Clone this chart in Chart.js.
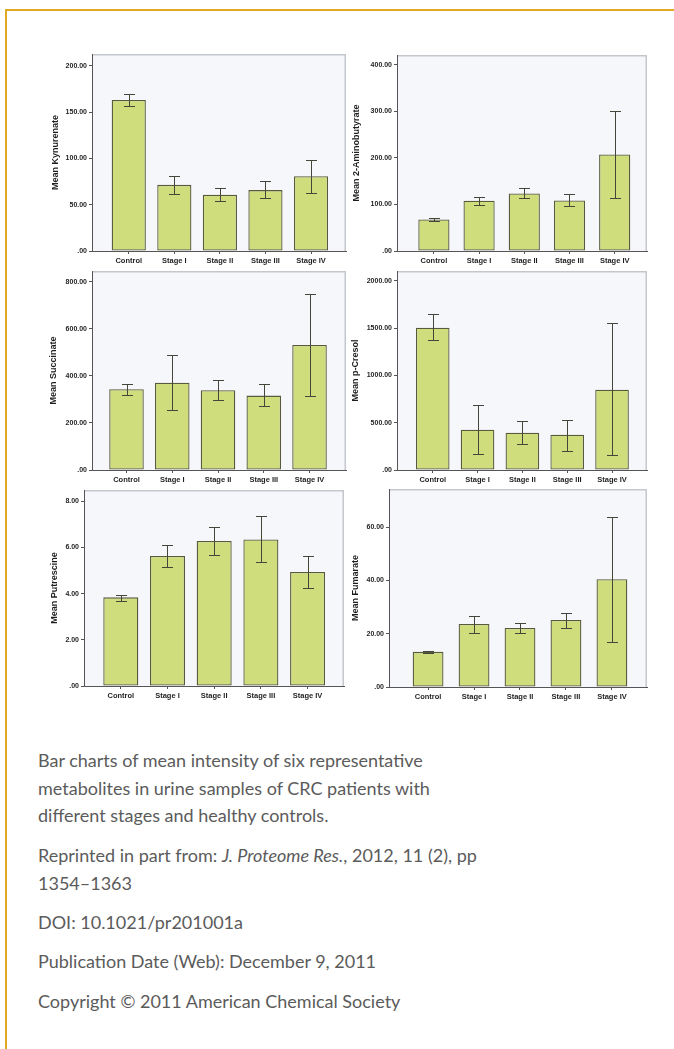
<!DOCTYPE html>
<html>
<head>
<meta charset="utf-8">
<script src="https://cdn.jsdelivr.net/npm/chart.js@4.4.1/dist/chart.umd.min.js"></script>
<style>
  html, body { margin: 0; padding: 0; background: #fff; }
  body { width: 674px; height: 1049px; position: relative; overflow: hidden; }
  .frame {
    position: absolute; left: 5px; top: 9px; right: 0; bottom: 0;
    border-left: 2px solid #e2a823; border-top: 2px solid #e2a823;
  }
  .panel { position: absolute; }
  .caption {
    position: absolute; left: 38px; top: 747px;
    color: #5b5b5b; font-family: Lato, "Open Sans", sans-serif;
    font-size: 18px; line-height: 27.7px; white-space: nowrap;
  }
  .caption p { margin: 0 0 11.7px 0; }
</style>
</head>
<body>
<div class="frame"></div>
<canvas id="c1" class="panel"></canvas>
<canvas id="c2" class="panel"></canvas>
<canvas id="c3" class="panel"></canvas>
<canvas id="c4" class="panel"></canvas>
<canvas id="c5" class="panel"></canvas>
<canvas id="c6" class="panel"></canvas>
<div class="caption">
  <p>Bar charts of mean intensity of six representative<br>metabolites in urine samples of CRC patients with<br>different stages and healthy controls.</p>
  <p>Reprinted in part from: <i>J. Proteome Res.</i>, 2012, 11 (2), pp<br>1354–1363</p>
  <p>DOI: 10.1021/pr201001a</p>
  <p>Publication Date (Web): December 9, 2011</p>
  <p>Copyright © 2011 American Chemical Society</p>
</div>
<script>
// Groups on the category axis
const categories = ['Control', 'Stage I', 'Stage II', 'Stage III', 'Stage IV'];

// Mean intensity per group, with the lower / upper ends of each error bar
const kynurenateMean = [163, 71.4, 60.7, 65.7, 80.8];
const kynurenateLow  = [156.6, 61.4, 53.5, 56.7, 62.5];
const kynurenateHigh = [169.5, 80.8, 67.5, 75.4, 98.7];
const kynurenateTicks = [0, 50, 100, 150, 200];

const aminobutyrateMean = [67.8, 108, 123.6, 108.6, 207.3];
const aminobutyrateLow  = [64.4, 98.7, 112.9, 95.7, 112.9];
const aminobutyrateHigh = [71.5, 117, 135.8, 122.3, 301];
const aminobutyrateTicks = [0, 100, 200, 300, 400];

const succinateMean = [343, 371, 339, 316, 531];
const succinateLow  = [317.8, 255.5, 296.6, 271, 316];
const succinateHigh = [365.7, 487, 382.6, 365.7, 748];
const succinateTicks = [0, 200, 400, 600, 800];

const cresolMean = [1504, 426, 394, 373, 849];
const cresolLow  = [1374, 169, 278, 204, 154];
const cresolHigh = [1645, 683, 514, 532, 1554];
const cresolTicks = [0, 500, 1000, 1500, 2000];

const putrescineMean = [3.84, 5.63, 6.28, 6.35, 4.94];
const putrescineLow  = [3.68, 5.14, 5.68, 5.37, 4.23];
const putrescineHigh = [3.95, 6.10, 6.87, 7.36, 5.63];
const putrescineTicks = [0, 2, 4, 6, 8];

const fumarateMean = [13.2, 23.7, 22.2, 25.2, 40.5];
const fumarateLow  = [12.6, 20.2, 20.4, 22.2, 16.9];
const fumarateHigh = [13.6, 26.8, 24.1, 27.8, 63.8];
const fumarateTicks = [0, 20, 40, 60];

// Panel placement on the page (plot-area edges in page pixels) and axis extents
const panels = [
  { id: 'c1', title: 'Mean Kynurenate', mean: kynurenateMean, low: kynurenateLow, high: kynurenateHigh,
    ticks: kynurenateTicks, yMax: 212.6, col: 40, titleX: 55.7,
    area: { l: 92, t: 54, r: 346, b: 251 }, xMin: -0.807, xMax: 4.768, barPct: 0.75 },
  { id: 'c2', title: 'Mean 2-Aminobutyrate', mean: aminobutyrateMean, low: aminobutyrateLow, high: aminobutyrateHigh,
    ticks: aminobutyrateTicks, yMax: 421, col: 340, titleX: 357,
    area: { l: 397, t: 55, r: 647, b: 251 }, xMin: -0.816, xMax: 4.715, barPct: 0.69 },
  { id: 'c3', title: 'Mean Succinate', mean: succinateMean, low: succinateLow, high: succinateHigh,
    ticks: succinateTicks, yMax: 845, col: 40, titleX: 54,
    area: { l: 92, t: 271, r: 346, b: 470 }, xMin: -0.754, xMax: 4.797, barPct: 0.755 },
  { id: 'c4', title: 'Mean p-Cresol', mean: cresolMean, low: cresolLow, high: cresolHigh,
    ticks: cresolTicks, yMax: 2105, col: 340, titleX: 355.7,
    area: { l: 397, t: 271, r: 647, b: 470 }, xMin: -0.797, xMax: 4.78, barPct: 0.75 },
  { id: 'c5', title: 'Mean Putrescine', mean: putrescineMean, low: putrescineLow, high: putrescineHigh,
    ticks: putrescineTicks, yMax: 8.49, col: 40, titleX: 55,
    area: { l: 84, t: 490, r: 344, b: 686 }, xMin: -0.788, xMax: 4.78, barPct: 0.75 },
  { id: 'c6', title: 'Mean Fumarate', mean: fumarateMean, low: fumarateLow, high: fumarateHigh,
    ticks: fumarateTicks, yMax: 74.4, col: 340, titleX: 355.7,
    area: { l: 389, t: 489, r: 647, b: 687 }, xMin: -0.85, xMax: 4.763, barPct: 0.67 }
];

const FONT = '"Liberation Sans", Arial, sans-serif';
const PAD_TOP = 8, PAD_RIGHT = 3, X_AXIS_H = 22;

// Light plot background with a pale frame on the top and right edges
const plotFrame = {
  id: 'plotFrame',
  beforeDraw(chart) {
    const { ctx, chartArea: a } = chart;
    ctx.save();
    ctx.fillStyle = '#f5f7fb';
    ctx.fillRect(a.left, a.top, a.right - a.left, a.bottom - a.top);
    ctx.strokeStyle = '#c4c8cc';
    ctx.lineWidth = 1.5;
    ctx.beginPath();
    ctx.moveTo(a.left, a.top + 0.75);
    ctx.lineTo(a.right - 0.75, a.top + 0.75);
    ctx.lineTo(a.right - 0.75, a.bottom);
    ctx.stroke();
    ctx.restore();
  }
};

// Vertical error bars with short caps, placed through the chart's scales
const errorBars = {
  id: 'errorBars',
  afterDatasetsDraw(chart) {
    const ds = chart.data.datasets[0];
    const xs = chart.scales.x, ys = chart.scales.y;
    const ctx = chart.ctx;
    const cap = 5.5;
    ctx.save();
    ctx.strokeStyle = '#45453a';
    ctx.lineWidth = 1;
    ds.errLow.forEach((lo, i) => {
      const x = Math.round(xs.getPixelForValue(i)) + 0.5;
      const yl = Math.round(ys.getPixelForValue(lo)) + 0.5;
      const yh = Math.round(ys.getPixelForValue(ds.errHigh[i])) + 0.5;
      ctx.beginPath();
      ctx.moveTo(x, yh); ctx.lineTo(x, yl);
      ctx.moveTo(x - cap, yh); ctx.lineTo(x + cap, yh);
      ctx.moveTo(x - cap, yl); ctx.lineTo(x + cap, yl);
      ctx.stroke();
    });
    ctx.restore();
  }
};

function formatTick(v) {
  return v === 0 ? '.00' : v.toFixed(2);
}

panels.forEach(p => {
  const cv = document.getElementById(p.id);
  const top = p.area.t - PAD_TOP;
  const w = p.area.r + PAD_RIGHT - p.col;
  const h = p.area.b + X_AXIS_H - top;
  cv.width = w; cv.height = h;
  cv.style.left = p.col + 'px';
  cv.style.top = top + 'px';
  cv.style.width = w + 'px';
  cv.style.height = h + 'px';

  const titleFont = { family: FONT, size: 9, weight: 'bold' };

  new Chart(cv, {
    type: 'bar',
    data: {
      datasets: [{
        data: p.mean.map((v, i) => ({ x: i, y: v })),
        errLow: p.low,
        errHigh: p.high,
        backgroundColor: '#cfdd7d',
        borderColor: '#595a3c',
        borderWidth: 1.3,
        borderSkipped: false,
        categoryPercentage: 1,
        barPercentage: p.barPct
      }]
    },
    options: {
      responsive: false,
      animation: false,
      devicePixelRatio: 1,
      layout: { padding: { top: PAD_TOP, right: PAD_RIGHT, left: 0, bottom: 0 } },
      plugins: { legend: { display: false }, tooltip: { enabled: false } },
      scales: {
        x: {
          type: 'linear',
          min: p.xMin, max: p.xMax,
          offset: false,
          grid: { display: true, drawOnChartArea: false, drawTicks: true, tickLength: 3, color: '#555', offset: false },
          border: { display: true, color: '#555', width: 1 },
          ticks: {
            callback: v => categories[v] ?? '',
            font: { family: FONT, size: 7.5, weight: 'bold' },
            color: '#1e1e1e', padding: 2, maxRotation: 0, autoSkip: false
          },
          afterBuildTicks: s => { s.ticks = categories.map((_, i) => ({ value: i })); },
          afterFit: s => { s.height = X_AXIS_H; }
        },
        y: {
          type: 'linear',
          min: 0, max: p.yMax,
          grid: { display: true, drawOnChartArea: false, drawTicks: true, tickLength: 3, color: '#555' },
          border: { display: true, color: '#555', width: 1 },
          ticks: {
            callback: v => formatTick(v),
            font: { family: FONT, size: 7, weight: 'bold' },
            color: '#1e1e1e', padding: 2
          },
          title: {
            display: true, text: p.title, font: titleFont, color: '#1e1e1e',
            padding: { top: p.titleX - p.col - 5.4, bottom: 0 }
          },
          afterBuildTicks: s => { s.ticks = p.ticks.map(v => ({ value: v })); },
          afterFit: s => { s.width = p.area.l - p.col; }
        }
      }
    },
    plugins: [plotFrame, errorBars]
  });
});
</script>
</body>
</html>
